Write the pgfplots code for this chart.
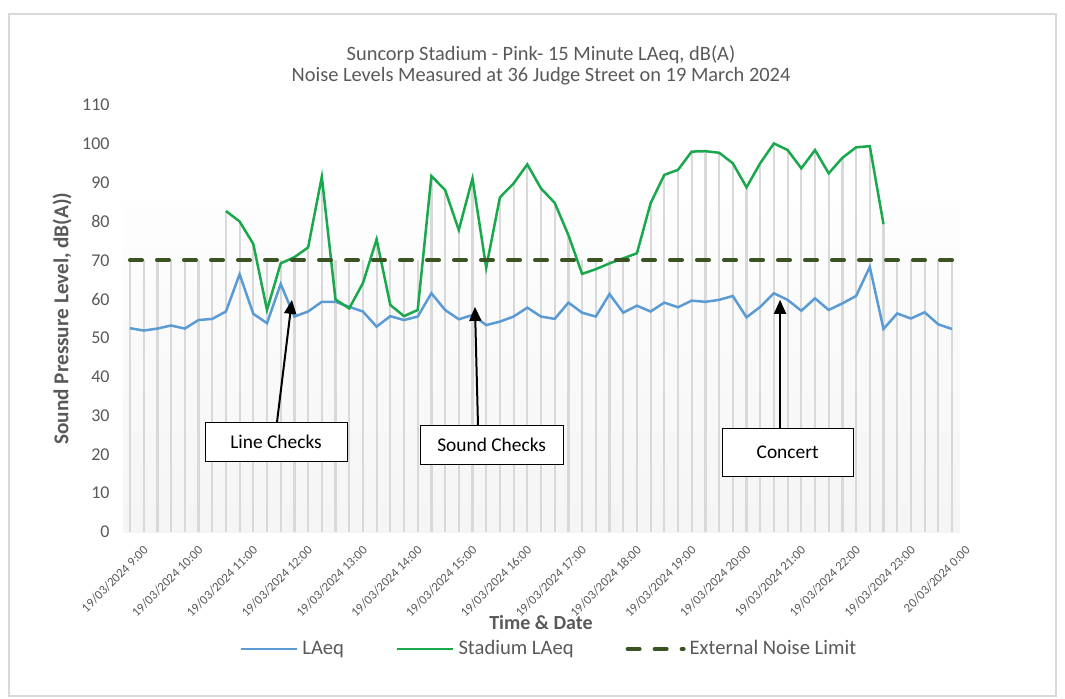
\documentclass[border=0pt]{standalone}
\usepackage{pgfplots}
\pgfplotsset{compat=1.18}
\usepackage{pgfplotstable}
\usepackage{fontspec}
\setmainfont{Carlito}
\usetikzlibrary{arrows.meta}

\definecolor{txtgrey}{HTML}{595959}
\definecolor{laeqblue}{HTML}{5B9BD5}
\definecolor{stadgreen}{HTML}{19A84B}
\definecolor{limitgreen}{HTML}{3B5323}
\definecolor{dropgrey}{HTML}{D9D9D9}

% 15 minute samples, 9:00 (x=0) to 0:00 (x=60); top = drop line height
\pgfplotstableread{
x  la    st    top
0  52.5  nan   70
1  51.9  nan   70
2  52.4  nan   70
3  53.2  nan   70
4  52.4  nan   70
5  54.6  nan   70
6  54.9  nan   70
7  56.8  82.7  82.7
8  66.4  80.0  80.0
9  56.2  74.2  74.2
10 53.8  57.2  70
11 63.9  69.2  70
12 55.5  70.8  70.8
13 56.8  73.3  73.3
14 59.3  91.5  91.5
15 59.3  59.9  70
16 58.0  57.6  70
17 56.8  64.1  70
18 52.9  75.4  75.4
19 55.6  58.5  70
20 54.6  55.6  70
21 55.5  57.2  70
22 61.5  91.7  91.7
23 57.2  88.1  88.1
24 54.8  77.8  77.8
25 55.9  91.1  91.1
26 53.3  68.1  70
27 54.2  86.2  86.2
28 55.5  89.8  89.8
29 57.8  94.7  94.7
30 55.5  88.5  88.5
31 54.9  84.8  84.8
32 59.1  76.5  76.5
33 56.5  66.5  70
34 55.5  67.7  70
35 61.3  69.2  70
36 56.5  70.5  70.5
37 58.3  71.8  71.8
38 56.8  84.7  84.7
39 59.1  92.0  92.0
40 57.9  93.3  93.3
41 59.6  98.0  98.0
42 59.3  98.1  98.1
43 59.8  97.7  97.7
44 60.8  95.0  95.0
45 55.3  88.8  88.8
46 58.0  95.0  95.0
47 61.5  100.1 100.1
48 59.8  98.4  98.4
49 57.0  93.7  93.7
50 60.2  98.4  98.4
51 57.2  92.4  92.4
52 58.9  96.4  96.4
53 60.8  99.1  99.1
54 68.3  99.4  99.4
55 52.3  79.3  79.3
56 56.3  nan   70
57 55.0  nan   70
58 56.6  nan   70
59 53.5  nan   70
60 52.3  nan   70
}\noise

\begin{document}
\begin{tikzpicture}
\path[use as bounding box] (0,0) rectangle (532.5pt,349pt);
\draw[dropgrey, line width=0.6pt] (4.5pt,1pt) rectangle (528pt,342pt);
\begin{axis}[
    at={(65pt,83pt)}, anchor=south west,
    scale only axis,
    width=411pt, height=213.5pt,
    xmin=0, xmax=60, ymin=0, ymax=110,
    clip=false,
    axis x line*=bottom, axis y line*=left,
    x axis line style={draw=dropgrey, line width=0.6pt, -},
    y axis line style={draw=none},
    tick style={draw=none},
    ytick distance=10,
    xtick={0,4,...,60},
    xticklabels={19/03/2024 9:00,19/03/2024 10:00,19/03/2024 11:00,19/03/2024 12:00,19/03/2024 13:00,19/03/2024 14:00,19/03/2024 15:00,19/03/2024 16:00,19/03/2024 17:00,19/03/2024 18:00,19/03/2024 19:00,19/03/2024 20:00,19/03/2024 21:00,19/03/2024 22:00,19/03/2024 23:00,20/03/2024 0:00},
    x tick label style={font=\fontsize{6.4}{7}\selectfont, text=txtgrey, rotate=45, anchor=east, inner sep=0pt, xshift=0pt, yshift=-11.3pt},
    y tick label style={font=\fontsize{9}{10}\selectfont, text=txtgrey, inner sep=0pt, xshift=-10pt},
    /pgf/number format/assume math mode=true,
    title={Suncorp Stadium - Pink- 15 Minute LAeq, dB(A)\\Noise Levels Measured at 36 Judge Street on 19 March 2024},
    title style={at={(axis description cs:0.5,1.064)}, anchor=center, align=center, font=\fontsize{10.2}{10.5}\selectfont, text=txtgrey},
    xlabel={Time \& Date},
    xlabel style={at={(axis description cs:0.5,-0.212)}, anchor=center, font=\bfseries\fontsize{10}{11}\selectfont, text=txtgrey},
    ylabel={Sound Pressure Level, dB(A))},
    ylabel style={at={(axis description cs:-0.0827,0.5)}, anchor=center, font=\bfseries\fontsize{10.6}{12}\selectfont, text=txtgrey},
    legend columns=3,
    legend style={at={(axis description cs:0.511,-0.274)}, anchor=center, draw=none, fill=none,
        font=\fontsize{10.3}{11}\selectfont, text=txtgrey,
        /tikz/every even column/.append style={column sep=24pt}},
    legend image code/.code={\draw[#1] (0pt,0pt) -- (28pt,0pt);},
]
% faint plot-area shading
\fill[top color=white!99.5!black, bottom color=white!96!black, draw=none]
    (axis cs:-0.5,0) rectangle (axis cs:60.6,85.5);
% drop lines
\addplot[ycomb, dropgrey, line width=1.1pt, no markers, forget plot] table[x=x, y=top] {\noise};
\addplot[laeqblue, line width=1.25pt, no markers] table[x=x, y=la] {\noise};
\addlegendentry{LAeq}
\addplot[stadgreen, line width=1.25pt, no markers] table[x=x, y=st] {\noise};
\addlegendentry{Stadium LAeq}
\addplot[limitgreen, line width=2pt, line cap=round, dash pattern=on 6pt off 7.5pt, no markers] coordinates {(0,70) (60,70)};
\addlegendentry{External Noise Limit}
% annotations
\draw[black, line width=1pt, -{Triangle[length=7pt,width=6pt]}] (axis cs:10.73,28.3) -- (axis cs:11.82,59.8);
\draw[black, line width=1pt, -{Triangle[length=7pt,width=6pt]}] (axis cs:25.4,27.6) -- (axis cs:25.18,58.0);
\draw[black, line width=1pt, -{Triangle[length=7pt,width=6pt]}] (axis cs:47.45,26.8) -- (axis cs:47.45,59.8);
\node[draw=black, fill=white, line width=0.5pt, minimum width=71pt, minimum height=19.5pt, font=\fontsize{9.7}{10}\selectfont] at (axis cs:10.66,23.3) {Line Checks};
\node[draw=black, fill=white, line width=0.5pt, minimum width=71.5pt, minimum height=19.5pt, font=\fontsize{9.7}{10}\selectfont] at (axis cs:26.4,22.5) {Sound Checks};
\node[draw=black, fill=white, line width=0.5pt, minimum width=65.5pt, minimum height=24pt, font=\fontsize{9.7}{10}\selectfont] at (axis cs:48.0,20.6) {Concert};
\end{axis}
\end{tikzpicture}
\end{document}
